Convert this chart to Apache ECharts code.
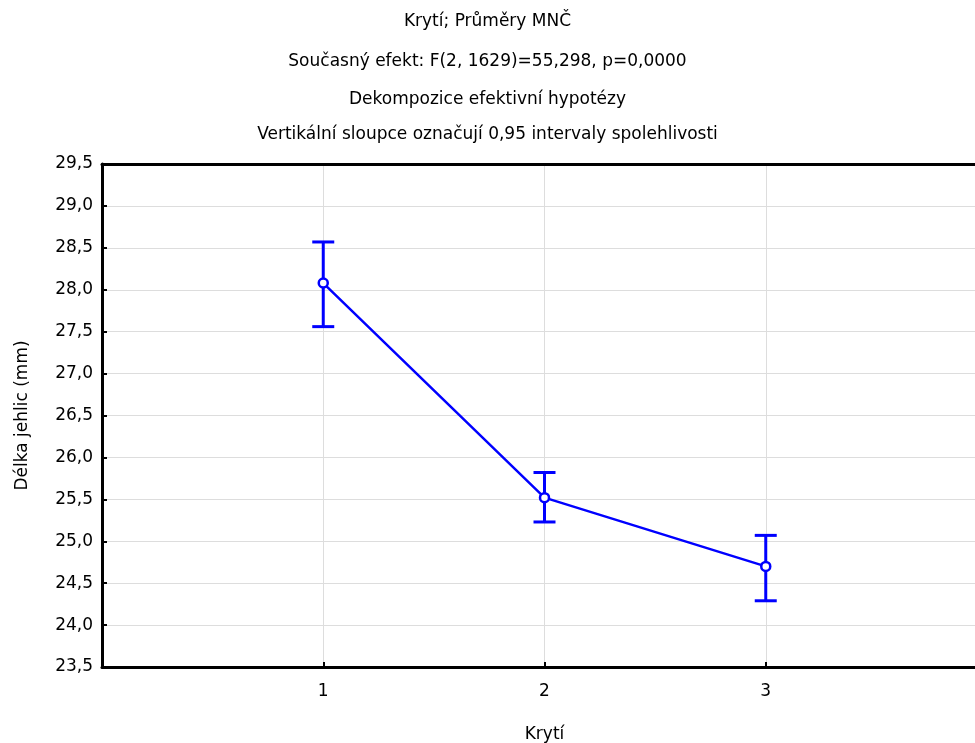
<!DOCTYPE html>
<html>
<head>
<meta charset="utf-8">
<script src="https://cdn.jsdelivr.net/npm/echarts@6/dist/echarts.min.js"></script>
<style>
html,body{margin:0;padding:0;background:#fff;}
#chart{width:975px;height:743px;}
</style>
</head>
<body>
<div id="chart"></div>
<script>
const titleLines = [
  "Krytí; Průměry MNČ",
  "Současný efekt: F(2, 1629)=55,298, p=0,0000",
  "Dekompozice efektivní hypotézy",
  "Vertikální sloupce označují 0,95 intervaly spolehlivosti"
];
const categories = [1, 2, 3];
const means = [28.08, 25.52, 24.70];
const lower = [27.56, 25.23, 24.29];
const upper = [28.57, 25.82, 25.07];
const xAxisName = "Krytí";
const yAxisName = "Délka jehlic (mm)";

const FONT = "'DejaVu Sans', sans-serif";
const titleCenters = [18, 58, 96, 131];

const chart = echarts.init(document.getElementById('chart'), null, {renderer: 'canvas'});

const lineData = categories.map((c, i) => [c, means[i]]);
const errData = categories.map((c, i) => [c, lower[i], upper[i]]);

chart.setOption({
  animation: false,
  backgroundColor: '#ffffff',
  title: titleLines.map((t, i) => ({
    text: t,
    left: 'center',
    top: titleCenters[i] - 10,
    textStyle: {fontFamily: FONT, fontSize: 17, fontWeight: 'normal', color: '#000'}
  })),
  grid: {
    left: 102, top: 164, width: 885, height: 503,
    outerBoundsMode: 'none',
    containLabel: false,
    show: false
  },
  xAxis: [{
    type: 'value', min: 0, max: 4, interval: 1,
    name: xAxisName, nameLocation: 'middle', nameGap: 59,
    nameTextStyle: {fontFamily: FONT, fontSize: 17, color: '#000'},
    axisLine: {show: true, onZero: false, lineStyle: {color: '#000', width: 3}},
    axisTick: {show: true, inside: true, length: 5, lineStyle: {color: '#000', width: 2}},
    axisLabel: {
      fontFamily: FONT, fontSize: 17, color: '#000', margin: 16,
      formatter: v => (categories.indexOf(v) >= 0 ? String(v) : '')
    },
    splitLine: {show: true, lineStyle: {color: '#dddddd', width: 1}}
  }, {
    type: 'value', position: 'top', min: 0, max: 4, interval: 1,
    axisLine: {show: true, onZero: false, lineStyle: {color: '#000', width: 3}},
    axisTick: {show: false},
    axisLabel: {show: false},
    splitLine: {show: false}
  }],
  yAxis: {
    type: 'value', min: 23.5, max: 29.5, interval: 0.5,
    name: yAxisName, nameLocation: 'middle', nameGap: 71, nameRotate: 90,
    nameTextStyle: {fontFamily: FONT, fontSize: 17, color: '#000'},
    axisLine: {show: true, onZero: false, lineStyle: {color: '#000', width: 3}},
    axisTick: {show: true, inside: true, length: 5, lineStyle: {color: '#000', width: 2}},
    axisLabel: {
      fontFamily: FONT, fontSize: 17, color: '#000', margin: 9,
      formatter: v => v.toFixed(1).replace('.', ',')
    },
    splitLine: {show: true, lineStyle: {color: '#dddddd', width: 1}}
  },
  series: [
    {
      type: 'custom',
      data: errData,
      z: 3,
      renderItem: function (params, api) {
        const x = api.value(0);
        const lo = api.coord([x, api.value(1)]);
        const hi = api.coord([x, api.value(2)]);
        const hw = 11;
        const style = {stroke: '#0000ff', lineWidth: 3, fill: null};
        return {
          type: 'group',
          children: [
            {type: 'line', shape: {x1: lo[0], y1: lo[1], x2: hi[0], y2: hi[1]}, style: style},
            {type: 'line', shape: {x1: lo[0] - hw, y1: lo[1], x2: lo[0] + hw, y2: lo[1]}, style: style},
            {type: 'line', shape: {x1: hi[0] - hw, y1: hi[1], x2: hi[0] + hw, y2: hi[1]}, style: style}
          ]
        };
      }
    },
    {
      type: 'line',
      data: lineData,
      z: 4,
      symbol: 'circle',
      symbolSize: 9,
      showSymbol: true,
      lineStyle: {color: '#0000ff', width: 2.5},
      itemStyle: {color: '#ffffff', borderColor: '#0000ff', borderWidth: 2.5}
    }
  ]
});
</script>
</body>
</html>
